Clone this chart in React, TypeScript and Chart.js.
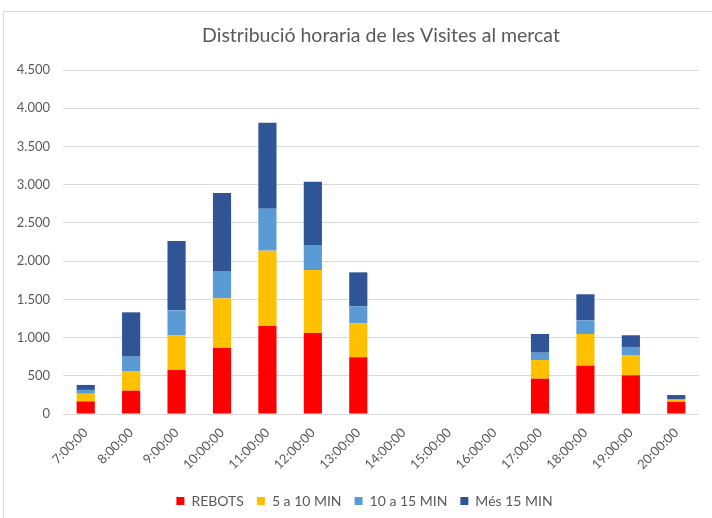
import React, { useEffect, useRef } from "react";
import { Chart, registerables } from "chart.js";

Chart.register(...registerables);

const categories = [
  "7:00:00", "8:00:00", "9:00:00", "10:00:00", "11:00:00", "12:00:00", "13:00:00",
  "14:00:00", "15:00:00", "16:00:00", "17:00:00", "18:00:00", "19:00:00", "20:00:00",
];
const rebots = [165, 305, 575, 868, 1151, 1060, 741, 0, 0, 0, 462, 632, 506, 160];
const min5a10 = [100, 257, 458, 645, 986, 824, 445, 0, 0, 0, 244, 415, 266, 25];
const min10a15 = [50, 188, 323, 358, 549, 327, 223, 0, 0, 0, 96, 179, 105, 8];
const mes15 = [65, 580, 907, 1020, 1125, 828, 444, 0, 0, 0, 245, 340, 153, 55];
const yTicks = [0, 500, 1000, 1500, 2000, 2500, 3000, 3500, 4000, 4500];

const FONT = "Lato, 'Open Sans', sans-serif";
const TEXT = "#595959";
const GRID = "#d9d9d9";

function fmt(v: number): string {
  if (v >= 1000) {
    return `${Math.floor(v / 1000)}.${String(v % 1000).padStart(3, "0")}`;
  }
  return String(v);
}

const legendShift = {
  id: "legendShift",
  afterUpdate(chart: any) {
    const lg = chart.legend;
    if (lg) {
      lg.left += 15;
      lg.right += 15;
    }
  },
};

export default function App() {
  const ref = useRef<HTMLCanvasElement | null>(null);

  useEffect(() => {
    if (!ref.current) return;
    const chart = new Chart(ref.current, {
      type: "bar",
      data: {
        labels: categories,
        datasets: [
          { label: "REBOTS", data: rebots, backgroundColor: "#FF0000" },
          { label: "5 a 10 MIN", data: min5a10, backgroundColor: "#FFC000" },
          { label: "10 a 15 MIN", data: min10a15, backgroundColor: "#5B9BD5" },
          { label: "Més 15 MIN", data: mes15, backgroundColor: "#2F5597" },
        ],
      },
      plugins: [legendShift],
      options: {
        animation: false,
        responsive: false,
        maintainAspectRatio: false,
        layout: { padding: { left: 0, right: 13, top: 0, bottom: 0 } },
        datasets: { bar: { barPercentage: 0.4, categoryPercentage: 1, borderWidth: 0 } },
        scales: {
          x: {
            stacked: true,
            grid: { display: false },
            border: { display: false },
            ticks: {
              color: TEXT,
              font: { family: FONT, size: 13 },
              minRotation: 45,
              maxRotation: 45,
              autoSkip: false,
              padding: 3,
            },
            afterFit: (axis: any) => { axis.height = 67; },
          },
          y: {
            stacked: true,
            min: 0,
            max: 4500,
            afterBuildTicks: (axis: any) => {
              axis.ticks = yTicks.map((v) => ({ value: v }));
            },
            grid: { color: GRID, lineWidth: 1, drawTicks: false },
            border: { display: false },
            ticks: {
              color: TEXT,
              font: { family: FONT, size: 13 },
              padding: 13,
              callback: (v: any) => fmt(Number(v)),
            },
            afterFit: (axis: any) => { axis.width = 63; },
          },
        },
        plugins: {
          title: {
            display: true,
            text: "Distribució horaria de les Visites al mercat",
            color: TEXT,
            fullSize: false,
            font: { family: FONT, size: 19.5, weight: "normal" },
            padding: { top: 24, bottom: 22.6 },
          },
          legend: {
            position: "bottom",
            labels: {
              color: TEXT,
              font: { family: FONT, size: 14 },
              boxWidth: 8,
              boxHeight: 8,
              padding: 13,
            },
          },
          tooltip: { enabled: false },
        },
      },
    });
    return () => chart.destroy();
  }, []);

  return (
    <div style={{ position: "fixed", left: 0, top: 0, width: 712, height: 518, background: "#fff", overflow: "hidden" }}>
      <div
        style={{
          position: "absolute",
          left: 3,
          top: 11,
          width: 760,
          height: 560,
          borderTop: "1.5px solid #d9d9d9",
          borderLeft: "1.5px solid #d9d9d9",
          boxSizing: "border-box",
        }}
      />
      <canvas ref={ref} width={712} height={518} style={{ position: "absolute", left: 0, top: 0 }} />
    </div>
  );
}
